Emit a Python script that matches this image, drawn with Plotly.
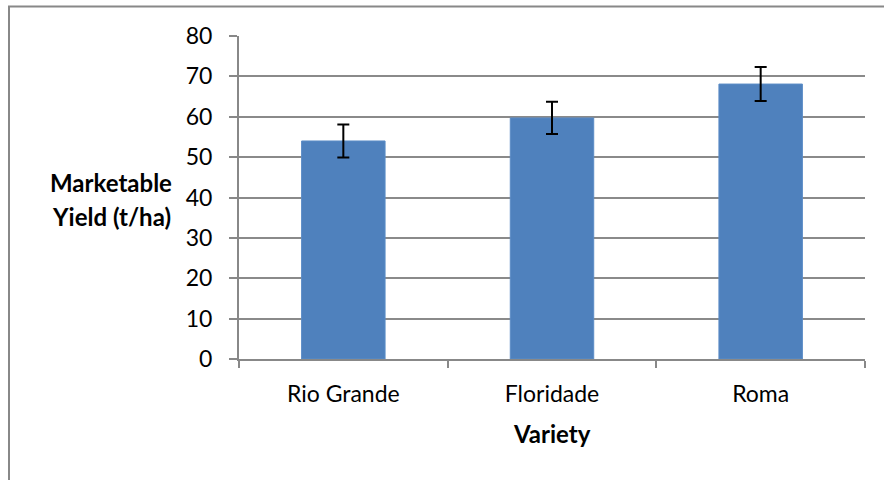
import plotly.graph_objects as go

varieties = ["Rio Grande", "Floridade", "Roma"]
yield_vals = [54.0, 59.7, 68.1]
yield_err = [4.1, 4.0, 4.2]
y_ticks = [0, 10, 20, 30, 40, 50, 60, 70, 80]

FONT = "Lato"
W, H = 884, 480
L, R, T, B = 239, 19, 36, 121
pw, ph = W - L - R, H - T - B

def px_x(x):
    return (x - L) / pw

def px_y(y):
    return (H - B - y) / ph

fig = go.Figure()
fig.add_trace(go.Bar(
    x=varieties, y=yield_vals,
    width=0.4,
    marker=dict(color="#4F81BD", line=dict(color="#5B8CC6", width=1)),
    error_y=dict(type="data", array=yield_err, color="black", thickness=2, width=6, visible=True),
))

fig.update_layout(
    width=W, height=H,
    margin=dict(l=L, r=R, t=T, b=B),
    paper_bgcolor="white", plot_bgcolor="white",
    showlegend=False,
    font=dict(family=FONT, size=24, color="black"),
    xaxis=dict(
        type="category",
        showline=True, linecolor="#888888", linewidth=2,
        ticks="outside", tickson="boundaries", ticklen=7, tickcolor="#888888", tickwidth=2,
        showgrid=False,
        ticklabelstandoff=13,
        tickfont=dict(family=FONT, size=23, color="black"),
        range=[-0.5, 2.5],
    ),
    yaxis=dict(
        range=[0, 80],
        tickvals=y_ticks,
        showline=True, linecolor="#888888", linewidth=2,
        ticks="outside", ticklen=8, tickcolor="#888888", tickwidth=2,
        showgrid=True, gridcolor="#8A8A8A", gridwidth=2,
        zeroline=False,
        ticklabelstandoff=12,
        tickfont=dict(family=FONT, size=23, color="black"),
    ),
    bargap=0.6,
)

fig.add_annotation(text="<b>Marketable</b>", xref="paper", yref="paper",
                   x=px_x(111), y=px_y(182), showarrow=False,
                   font=dict(family=FONT, size=24, color="black"),
                   xanchor="center", yanchor="middle")
fig.add_annotation(text="<b>Yield (t/ha)</b>", xref="paper", yref="paper",
                   x=px_x(111), y=px_y(216), showarrow=False,
                   font=dict(family=FONT, size=24, color="black"),
                   xanchor="center", yanchor="middle")
fig.add_annotation(text="<b>Variety</b>", xref="paper", yref="paper",
                   x=px_x(552), y=px_y(433), showarrow=False,
                   font=dict(family=FONT, size=24, color="black"),
                   xanchor="center", yanchor="middle")

# outer chart border (top and left visible)
fig.add_shape(type="line", xref="paper", yref="paper",
              x0=px_x(8), x1=px_x(884), y0=px_y(6.5), y1=px_y(6.5),
              line=dict(color="#888888", width=2))
fig.add_shape(type="line", xref="paper", yref="paper",
              x0=px_x(9), x1=px_x(9), y0=px_y(6), y1=px_y(480),
              line=dict(color="#888888", width=2))

fig.write_html("out.html",
               config={"displayModeBar": False},
               post_script="document.body.style.margin='0';document.body.style.overflow='hidden';")
